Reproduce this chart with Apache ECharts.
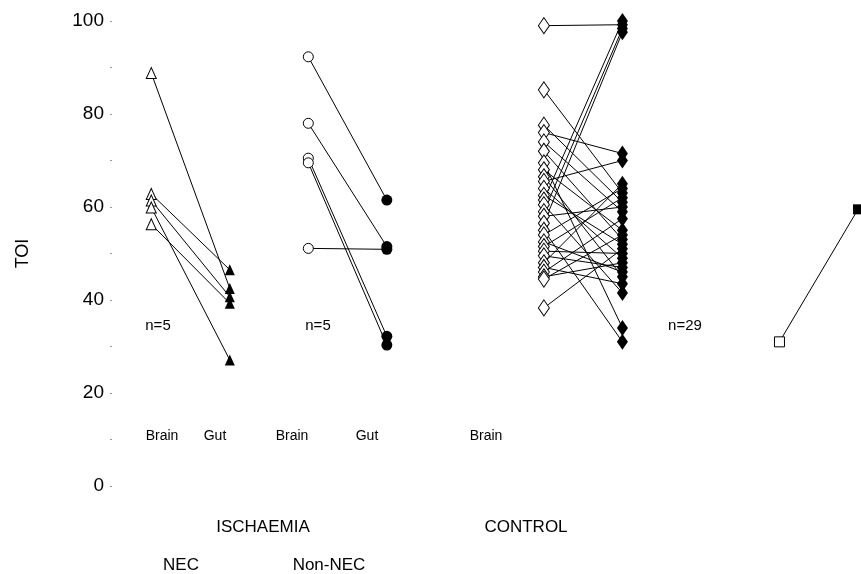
<!DOCTYPE html>
<html>
<head>
<meta charset="utf-8">
<script src="https://cdn.jsdelivr.net/npm/echarts@6/dist/echarts.min.js"></script>
<style>html,body{margin:0;padding:0;background:#fff}#c{width:861px;height:574px}</style>
</head>
<body>
<div id="c"></div>
<script>
// x positions of the columns (value axis)
var xPos = { necBrain: 1, necGut: 2, nonBrain: 3, nonGut: 4, ctlBrain: 6, ctlGut: 7, extraA: 9, extraB: 10 };

// NEC (ischaemia) pairs: brain -> gut
var necBrain = [88.8, 62.8, 61.4, 59.9, 56.3];
var necGut   = [42.5, 46.5, 40.7, 27.1, 39.3];

// Non-NEC pairs
var nonBrain = [92.3, 78.0, 70.5, 69.5, 51.1];
var nonGut   = [61.5, 51.5, 32.2, 30.3, 50.9];

// Control pairs
var ctlBrain = [99.0, 85.2, 77.6, 76.0, 74.0, 72.0, 69.5, 68.0, 66.5, 65.5,
                64.0, 62.5, 61.5, 60.5, 59.0, 58.0, 56.5, 55.0, 54.0, 52.5,
                51.5, 50.5, 49.5, 48.0, 47.0, 46.0, 45.0, 44.5, 38.3];
var ctlGut   = [99.2, 63.0, 61.0, 71.5, 59.0, 53.0, 34.0, 55.0, 45.0, 70.0,
                49.0, 52.0, 100.0, 41.5, 98.4, 60.0, 97.6, 31.0, 64.0, 46.0,
                62.0, 50.0, 47.0, 65.0, 43.5, 57.5, 48.0, 54.0, 51.0];

// Extra pair at right
var extraA = [31.0];
var extraB = [59.5];

var yTicks = [0, 20, 40, 60, 80, 100];

function pairLines(xa, xb, a, b) {
  var out = [];
  for (var i = 0; i < a.length; i++) out.push({ coords: [[xa, a[i]], [xb, b[i]]] });
  return out;
}
function pts(x, arr) { return arr.map(function (v) { return [x, v]; }); }

var allLines = []
  .concat(pairLines(xPos.necBrain, xPos.necGut, necBrain, necGut))
  .concat(pairLines(xPos.nonBrain, xPos.nonGut, nonBrain, nonGut))
  .concat(pairLines(xPos.ctlBrain, xPos.ctlGut, ctlBrain, ctlGut))
  .concat(pairLines(xPos.extraA, xPos.extraB, extraA, extraB));

var openStyle = { color: '#fff', borderColor: '#000', borderWidth: 1, opacity: 1 };
var fillStyle = { color: '#000', borderColor: '#000', borderWidth: 0, opacity: 1 };
var FONT = 'Liberation Sans, Arial, sans-serif';

function sc(data, symbol, size, style) {
  return { type: 'scatter', data: data, symbol: symbol, symbolSize: size, itemStyle: style, z: 5, silent: true, animation: false, clip: false };
}

function txt(x, y, t, fs) {
  return { type: 'text', x: x, y: y, style: { text: t, fontSize: fs, fontFamily: FONT, fill: '#000', align: 'center', verticalAlign: 'middle' } };
}

var chart = echarts.init(document.getElementById('c'), null, { renderer: 'canvas' });
chart.setOption({
  animation: false,
  backgroundColor: '#fff',
  grid: { left: 112, right: 3, top: 21, bottom: 88, containLabel: false },
  xAxis: { type: 'value', min: 0.5, max: 10, show: false },
  yAxis: {
    type: 'value', min: yTicks[0], max: yTicks[yTicks.length - 1], interval: 20,
    name: 'TOI', nameLocation: 'middle', nameGap: 80, nameRotate: 90,
    nameTextStyle: { fontSize: 18, fontFamily: FONT, color: '#000' },
    axisLine: { show: false },
    axisTick: { show: true, length: 2, lineStyle: { color: '#999' } },
    minorTick: { show: true, splitNumber: 2, length: 2, lineStyle: { color: '#999' } },
    splitLine: { show: false },
    axisLabel: { fontSize: 19, fontFamily: FONT, color: '#000', margin: 8 }
  },
  series: [
    { type: 'lines', coordinateSystem: 'cartesian2d', data: allLines, lineStyle: { color: '#000', width: 1, opacity: 1 }, z: 2, silent: true, animation: false },
    sc(pts(xPos.necBrain, necBrain), 'triangle', [10, 11], openStyle),
    sc(pts(xPos.necGut, necGut), 'triangle', [10, 11], fillStyle),
    sc(pts(xPos.nonBrain, nonBrain), 'circle', 10, openStyle),
    sc(pts(xPos.nonGut, nonGut), 'circle', 11, fillStyle),
    sc(pts(xPos.ctlBrain, ctlBrain), 'diamond', [11, 16], openStyle),
    sc(pts(xPos.ctlGut, ctlGut), 'diamond', [11, 16], fillStyle),
    sc(pts(xPos.extraA, extraA), 'rect', 10, openStyle),
    sc(pts(xPos.extraB, extraB), 'rect', 10, fillStyle)
  ],
  graphic: [
    txt(158, 326, 'n=5', 15),
    txt(318, 326, 'n=5', 15),
    txt(685, 326, 'n=29', 15),
    txt(162, 436, 'Brain', 14),
    txt(215, 436, 'Gut', 14),
    txt(292, 436, 'Brain', 14),
    txt(367, 436, 'Gut', 14),
    txt(486, 436, 'Brain', 14),
    txt(263, 527, 'ISCHAEMIA', 17),
    txt(526, 527, 'CONTROL', 17),
    txt(181, 565, 'NEC', 17),
    txt(329, 565, 'Non-NEC', 17)
  ]
});
</script>
</body>
</html>
